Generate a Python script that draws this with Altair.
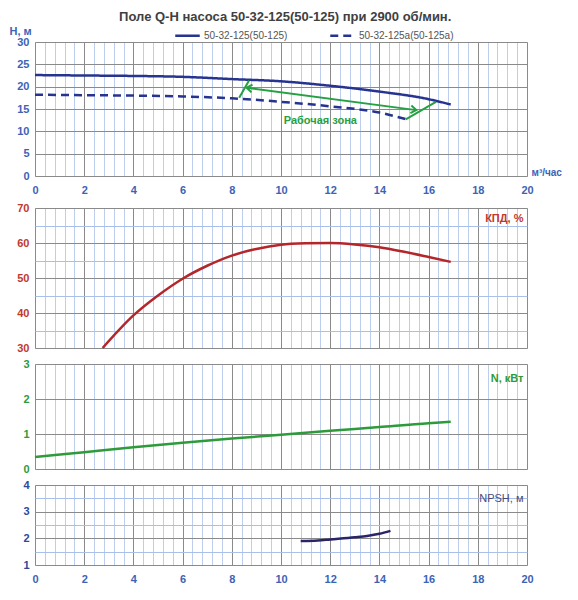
import altair as alt
import pandas as pd

# ---------------- data ----------------
title_text = "Поле Q-H насоса 50-32-125(50-125) при 2900 об/мин."
series_names = ["50-32-125(50-125)", "50-32-125а(50-125а)"]

q_main = [0, 2, 4, 6, 8, 10, 12, 14, 16, 16.9]
h_main = [22.6, 22.5, 22.4, 22.2, 21.7, 21.2, 20.2, 18.9, 17.2, 16.0]
q_trim = [0, 2, 4, 6, 8, 10, 12, 14, 15.1]
h_trim = [18.2, 18.1, 18.0, 17.8, 17.4, 16.6, 15.6, 14.2, 12.7]

zone_arrow_q = [8.6, 15.5]
zone_arrow_h = [19.75, 14.75]
zone_left_q = [8.3, 8.7]
zone_left_h = [17.5, 21.4]
zone_right_q = [15.07, 16.3]
zone_right_h = [12.7, 16.6]
zone_label = ["Рабочая зона"]
zone_label_q = [11.6]
zone_label_h = [12.3]

q_eff = [2.75, 4, 5, 6, 7, 8, 9, 10, 11, 12, 13, 14, 15, 16, 16.9]
eff = [30, 39.3, 45, 49.8, 53.5, 56.4, 58.3, 59.5, 59.9, 60.0, 59.6, 58.8, 57.5, 56.0, 54.6]

q_pow = [0, 2, 4, 6, 8, 10, 12, 14, 16, 16.9]
power = [0.34, 0.48, 0.62, 0.75, 0.87, 0.98, 1.09, 1.2, 1.31, 1.35]

q_npsh = [10.8, 11.5, 12, 13, 13.5, 14, 14.45]
npsh = [1.9, 1.92, 1.96, 2.04, 2.09, 2.17, 2.28]

x_grid = [round(i * 0.4, 1) for i in range(51)]
h_ticks = [0, 5, 10, 15, 20, 25, 30]
eff_ticks = [30, 35, 40, 45, 50, 55, 60, 65, 70]
pow_ticks = [0, 1, 2, 3]
npsh_ticks = [1, 1.5, 2, 2.5, 3, 3.5, 4]

# ---------------- style ----------------
FONT = "Liberation Sans"
BLUE = "#3d63b5"
NAVY = "#26338f"
RED = "#b3262a"
RED_LBL = "#c0392b"
GREEN = "#2e9b3a"
GREEN_ARROW = "#25a042"
DARK_GRID = "#8a8a8a"
BLUE_GRID = "#bccdee"
W = 492


def is_major(step):
    return f"abs(datum.value/{step} - round(datum.value/{step})) < 0.001"


def x_axis(show_labels, title=None):
    kw = dict(
        values=x_grid,
        grid=True,
        gridColor={"condition": {"test": is_major(2), "value": DARK_GRID}, "value": BLUE_GRID},
        gridWidth=1,
        ticks=False,
        domain=False,
        labels=show_labels,
        labelExpr=f"{is_major(2)} ? format(datum.value, 'd') : ''",
        labelColor=BLUE,
        labelFont=FONT,
        labelFontSize=11,
        labelFontWeight="bold",
        labelPadding=8,
        labelOverlap=False,
        labelFlush=False,
        title=title,
    )
    if title:
        kw.update(titleX=W + 4, titleY=-4, titleAlign="left", titleBaseline="middle",
                  titleColor=BLUE, titleFont=FONT, titleFontSize=10, titleFontWeight="bold")
    return alt.Axis(**kw)


def y_axis(values, color, major_step, minor_color, title=None, tx=0, ty=0, talign="left",
           tcolor=None, tweight="bold"):
    kw = dict(
        values=values,
        grid=True,
        gridColor={"condition": {"test": is_major(major_step), "value": DARK_GRID}, "value": minor_color},
        ticks=False,
        domain=False,
        labelExpr=f"{is_major(major_step)} ? format(datum.value, 'd') : ''",
        labelColor=color,
        labelFont=FONT,
        labelFontSize=11,
        labelFontWeight="bold",
        labelPadding=6,
        labelOverlap=False,
        labelFlush=False,
        title=title,
    )
    if title:
        kw.update(titleX=tx, titleY=ty, titleAngle=0, titleAlign=talign, titleBaseline="middle",
                  titleColor=tcolor or color, titleFont=FONT, titleFontSize=11, titleFontWeight=tweight)
    return alt.Axis(**kw)


xs = alt.Scale(domain=[0, 20], nice=False)

# ---------------- panel 1 : Q-H ----------------
X_TOP = alt.X("q:Q", scale=xs, axis=x_axis(True, "м³/час"))
Y_TOP = alt.Y("h:Q", scale=alt.Scale(domain=[0, 30], nice=False),
              axis=y_axis(h_ticks, BLUE, 5, DARK_GRID, "H, м", tx=-26, ty=-11))

h_df = pd.DataFrame({
    "q": q_main + q_trim,
    "h": h_main + h_trim,
    "series": [series_names[0]] * len(q_main) + [series_names[1]] * len(q_trim),
})

h_lines = alt.Chart(h_df).mark_line(color=NAVY, strokeWidth=2.5, interpolate="monotone").encode(
    x=X_TOP,
    y=Y_TOP,
    strokeDash=alt.StrokeDash(
        "series:N",
        scale=alt.Scale(domain=series_names, range=[[1, 0], [8, 5]]),
        legend=alt.Legend(orient="none", legendX=139, legendY=-20, direction="horizontal",
                          title=None, symbolType="stroke", symbolSize=600, symbolStrokeWidth=2.5,
                          symbolStrokeColor=NAVY, labelColor="#555555", labelFont=FONT,
                          labelFontSize=10, columnPadding=37, labelOffset=3),
    ),
)

arrow_df = pd.DataFrame({"q": zone_arrow_q, "h": zone_arrow_h})
left_df = pd.DataFrame({"q": zone_left_q, "h": zone_left_h})
right_df = pd.DataFrame({"q": zone_right_q, "h": zone_right_h})
lbl_df = pd.DataFrame({"q": zone_label_q, "h": zone_label_h, "t": zone_label})

arrow_line = alt.Chart(arrow_df).mark_line(color=GREEN_ARROW, strokeWidth=2).encode(x=X_TOP, y=Y_TOP)
left_line = alt.Chart(left_df).mark_line(color=GREEN_ARROW, strokeWidth=2).encode(x=X_TOP, y=Y_TOP)
right_line = alt.Chart(right_df).mark_line(color=GREEN_ARROW, strokeWidth=2).encode(x=X_TOP, y=Y_TOP)
chevron = "M -1 -0.7 L 0 0 L -1 0.7"
head_right = alt.Chart(arrow_df.tail(1)).mark_point(
    shape=chevron, size=120, filled=False, color=GREEN_ARROW, strokeWidth=2, angle=7.5, opacity=1
).encode(x=X_TOP, y=Y_TOP)
head_left = alt.Chart(arrow_df.head(1)).mark_point(
    shape=chevron, size=120, filled=False, color=GREEN_ARROW, strokeWidth=2, angle=187.5, opacity=1
).encode(x=X_TOP, y=Y_TOP)
zone_text = alt.Chart(lbl_df).mark_text(
    color=GREEN_ARROW, font=FONT, fontSize=11, fontWeight="bold"
).encode(x=X_TOP, y=Y_TOP, text="t:N")

panel1 = alt.layer(h_lines, arrow_line, left_line, right_line, head_right, head_left, zone_text).properties(
    width=W, height=134
)

# ---------------- panel 2 : efficiency ----------------
eff_df = pd.DataFrame({"q": q_eff, "v": eff})
panel2 = alt.Chart(eff_df).mark_line(color=RED, strokeWidth=2.5, interpolate="monotone").encode(
    x=alt.X("q:Q", scale=xs, axis=x_axis(False)),
    y=alt.Y("v:Q", scale=alt.Scale(domain=[30, 70], nice=False),
            axis=y_axis(eff_ticks, RED_LBL, 10, "#a9c0ea", "КПД, %", tx=W - 4, ty=10, talign="right")),
).properties(width=W, height=140)

# ---------------- panel 3 : power ----------------
pow_df = pd.DataFrame({"q": q_pow, "v": power})
panel3 = alt.Chart(pow_df).mark_line(color=GREEN, strokeWidth=2.5, interpolate="monotone").encode(
    x=alt.X("q:Q", scale=xs, axis=x_axis(False)),
    y=alt.Y("v:Q", scale=alt.Scale(domain=[0, 3], nice=False),
            axis=y_axis(pow_ticks, GREEN, 1, DARK_GRID, "N, кВт", tx=W - 4, ty=14, talign="right")),
).properties(width=W, height=105)

# ---------------- panel 4 : NPSH ----------------
npsh_df = pd.DataFrame({"q": q_npsh, "v": npsh})
panel4 = alt.Chart(npsh_df).mark_line(color="#2b2466", strokeWidth=2.5, interpolate="monotone").encode(
    x=alt.X("q:Q", scale=xs, axis=x_axis(True)),
    y=alt.Y("v:Q", scale=alt.Scale(domain=[1, 4], nice=False),
            axis=y_axis(npsh_ticks, "#2a4a9a", 1, "#a9c0ea", "NPSH, м", tx=W - 4, ty=13,
                        talign="right", tcolor="#4a4a7a", tweight="normal")),
).properties(width=W, height=80)

inner = alt.vconcat(panel2, panel3, panel4, spacing=16, bounds="flush")

chart = alt.vconcat(panel1, inner, spacing=32, bounds="flush").properties(
    title=alt.TitleParams(title_text, fontSize=13, font=FONT, fontWeight="bold", color="#404040",
                          anchor="middle", offset=-2),
    padding={"left": 0, "top": 3, "right": 0, "bottom": 2},
).configure_view(stroke=DARK_GRID, strokeWidth=1).configure(background="white")

chart.save("out.html", embed_options={"renderer": "svg", "actions": False})
